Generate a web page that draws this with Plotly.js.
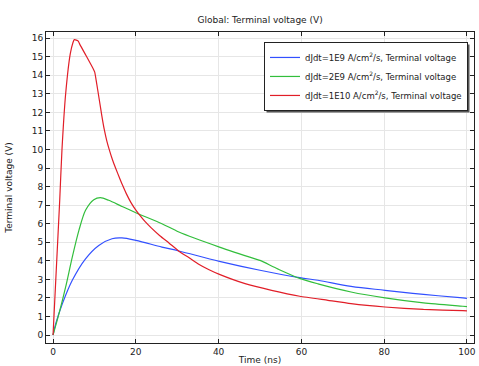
<!DOCTYPE html>
<html>
<head>
<meta charset="utf-8">
<script src="https://cdn.plot.ly/plotly-3.0.1.min.js"></script>
<style>html,body{margin:0;padding:0;background:#fff;}#chart{width:479px;height:366px;}</style>
</head>
<body>
<div id="chart"></div>
<script>
var seriesNames = [
  "dJdt=1E9 A/cm<sup>2</sup>/s, Terminal voltage",
  "dJdt=2E9 A/cm<sup>2</sup>/s, Terminal voltage",
  "dJdt=1E10 A/cm<sup>2</sup>/s, Terminal voltage"
];
var blueTime = [0,0.65,2.26,4.65,7.85,11.05,14.25,16.65,20,26.3,30.4,40.2,50,59.6,64,72,80.2,89.5,99,100];
var blueVolt = [0,0.61,1.69,2.95,4.11,4.83,5.19,5.23,5.1,4.74,4.53,3.97,3.49,3.09,2.95,2.62,2.41,2.19,2.0,1.98];
var greenTime = [0,1.44,3.05,4.65,6.25,7.85,9.85,11.45,13.45,16.65,20,26.3,30.4,40.2,49,50,54.4,59.6,64,72,80.2,89.5,99,100];
var greenVolt = [0,1.15,2.59,4.2,5.64,6.72,7.29,7.40,7.26,6.93,6.59,6.0,5.55,4.74,4.09,4.02,3.55,3.05,2.76,2.32,2.0,1.73,1.55,1.53];
var redTime = [0,0.8,1.6,2.16,3.05,4.17,4.8,5.13,5.8,6.09,6.5,8,9.7,10.07,10.4,11.2,11.8,12.4,13.0,13.6,14.4,15.2,16.0,16.7,17.7,18.8,19.8,20.8,22.2,23.6,25.8,28,30.4,32.8,35.2,37.7,40.2,46.4,52.8,59.6,66.4,72,80.2,89.5,99,100];
var redVolt = [0,3.6,7.2,10,13,15.16,15.75,15.92,15.88,15.84,15.65,15.05,14.35,14.17,13.75,12.64,11.8,11.05,10.45,9.98,9.42,8.95,8.5,8.12,7.62,7.15,6.8,6.5,6.12,5.8,5.35,4.96,4.52,4.18,3.82,3.52,3.27,2.77,2.41,2.09,1.87,1.69,1.51,1.38,1.31,1.3];
var xTicks = [0,20,40,60,80,100];
var yTicks = [0,1,2,3,4,5,6,7,8,9,10,11,12,13,14,15,16];

var colors = ["rgb(50,80,255)", "rgb(50,190,60)", "rgb(225,30,40)"];
var xs = [blueTime, greenTime, redTime];
var ys = [blueVolt, greenVolt, redVolt];
var smooth = [1, 0.8, 0.5];
var traces = xs.map(function(x, i){
  return {x: x, y: ys[i], type: "scatter", mode: "lines", name: seriesNames[i],
          line: {color: colors[i], width: 1.2, shape: "spline", smoothing: smooth[i]}};
});

var fnt = {family: "DejaVu Sans, sans-serif", size: 9, color: "#222"};
var lfnt = {family: "DejaVu Sans, sans-serif", size: 8.5, color: "#222"};
var axisCommon = {
  showline: true, linecolor: "#222", linewidth: 1, mirror: "ticks",
  ticks: "inside", ticklen: 4, tickcolor: "#222",
  showgrid: true, gridcolor: "#e6e6e6", gridwidth: 1,
  zeroline: false, tickfont: fnt
};
var layout = {
  width: 479, height: 366,
  margin: {l: 46, r: 5, t: 32, b: 23},
  paper_bgcolor: "#fff", plot_bgcolor: "#fff",
  font: fnt,
  title: {text: "Global: Terminal voltage (V)", font: fnt,
          x: 0.543, xanchor: "center", y: 0.945, yanchor: "middle"},
  xaxis: Object.assign({}, axisCommon, {range: [-1.7, 101.7], tickvals: xTicks,
          title: {text: "Time (ns)", font: fnt, standoff: 0}}),
  yaxis: Object.assign({}, axisCommon, {range: [-0.43, 16.33], tickvals: yTicks,
          title: {text: "Terminal voltage (V)", font: fnt, standoff: 17}}),
  showlegend: true,
  legend: {x: 0.986, xanchor: "right", y: 0.968, yanchor: "top",
           bgcolor: "#fff", bordercolor: "#222", borderwidth: 1,
           font: lfnt, tracegroupgap: 0, itemwidth: 30}
};
Plotly.newPlot("chart", traces, layout, {displayModeBar: false, staticPlot: true}).then(function(gd){
  var bg = gd.querySelector(".legend .bg");
  if (!bg) return;
  var r = bg.getBoundingClientRect();
  var c = gd.getBoundingClientRect();
  var fs = gd._fullLayout._size;
  function px2x(p){ return (p - fs.l) / fs.w; }
  function px2y(p){ return 1 - (p - fs.t) / fs.h; }
  var L = r.left - c.left, R = r.right - c.left, T = r.top - c.top, B = r.bottom - c.top;
  Plotly.relayout(gd, {shapes: [
    {type: "rect", xref: "paper", yref: "paper", layer: "above",
     x0: px2x(L + 2), x1: px2x(R + 2), y0: px2y(B + 2), y1: px2y(T + 2),
     line: {width: 0}, fillcolor: "#555"}
  ]});
});
</script>
</body>
</html>
